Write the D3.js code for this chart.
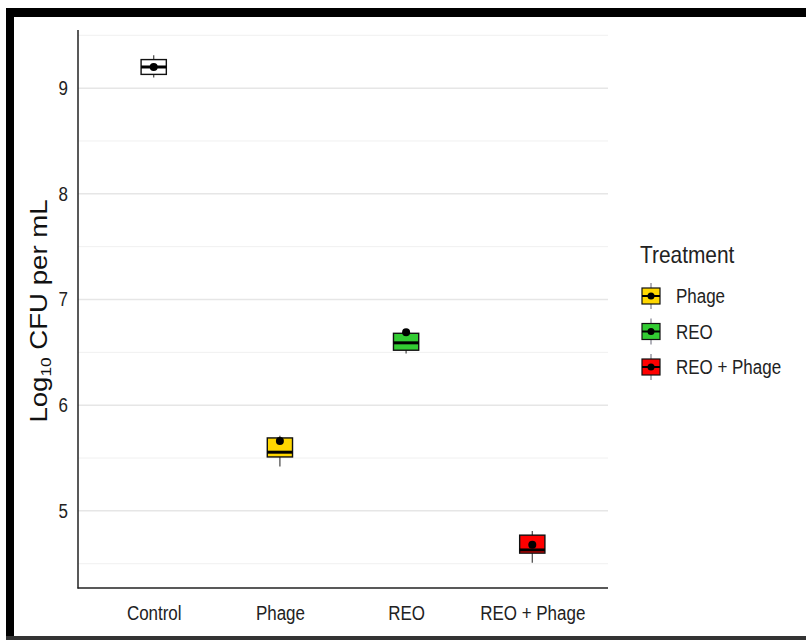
<!DOCTYPE html>
<html>
<head>
<meta charset="utf-8">
<script src="https://cdn.jsdelivr.net/npm/d3@7"></script>
<style>
  html, body { margin: 0; padding: 0; background: #fff; }
  svg { display: block; font-family: "Liberation Sans", Arial, sans-serif; }
</style>
</head>
<body>
<svg id="chart" width="806" height="640"></svg>
<script>
// Treatment groups and their five-number summaries (log10 CFU per mL)
const categories = ["Control", "Phage", "REO", "REO + Phage"];
const whiskerLow = [9.10, 5.42, 6.49, 4.51];
const q1Values   = [9.13, 5.51, 6.52, 4.60];
const medians    = [9.20, 5.555, 6.59, 4.63];
const q3Values   = [9.27, 5.69, 6.68, 4.77];
const whiskerHigh = [9.31, 5.71, 6.71, 4.81];
const means      = [9.20, 5.66, 6.69, 4.68];
const fills      = ["#ffffff", "#ffd700", "#33cc33", "#ff0000"];

// Legend entries (Control is not listed)
const legendTitle = "Treatment";
const legendItems = ["Phage", "REO", "REO + Phage"];
const legendFills = ["#ffd700", "#33cc33", "#ff0000"];

const majorTicks = [5, 6, 7, 8, 9];
const minorTicks = [4.5, 5.5, 6.5, 7.5, 8.5, 9.5];

// Narrow, tall lettering
const SQUEEZE = "scale(0.87,1)";
const FONT = 19.5;

const svg = d3.select("#chart");

// Frame around the figure
svg.append("rect").attr("x", 6).attr("y", 8).attr("width", 800).attr("height", 9).attr("fill", "#000");
svg.append("rect").attr("x", 6).attr("y", 8).attr("width", 8).attr("height", 632).attr("fill", "#000");
svg.append("rect").attr("x", 6).attr("y", 636).attr("width", 800).attr("height", 4).attr("fill", "#333");

const plot = { left: 78, right: 608, top: 30, bottom: 588 };

// Y domain: data range with 5% expansion on each side
const dMin = d3.min(whiskerLow), dMax = d3.max(whiskerHigh);
const pad = (dMax - dMin) * 0.05;
const y = d3.scaleLinear().domain([dMin - pad, dMax + pad]).range([plot.bottom, plot.top]);

// Discrete x positions with 0.6-unit expansion each side
const x = d3.scalePoint().domain(categories).range([plot.left, plot.right]).padding(0.6);
const step = x.step();
const boxW = step * 0.2;

const g = svg.append("g");

// Grid lines
g.selectAll(".minor").data(minorTicks).join("line")
  .attr("x1", plot.left).attr("x2", plot.right)
  .attr("y1", d => y(d)).attr("y2", d => y(d))
  .attr("stroke", "#f0f0f0").attr("stroke-width", 1);
g.selectAll(".major").data(majorTicks).join("line")
  .attr("x1", plot.left).attr("x2", plot.right)
  .attr("y1", d => y(d)).attr("y2", d => y(d))
  .attr("stroke", "#e6e6e6").attr("stroke-width", 1.5);

// Axes
const yAxis = d3.axisLeft(y).tickValues(majorTicks).tickSize(0).tickPadding(11.5).tickFormat(d3.format("d"));
const yG = g.append("g").attr("transform", `translate(${plot.left},0)`).call(yAxis);
yG.select(".domain").remove();
yG.selectAll("text").attr("font-size", FONT).attr("fill", "#222").attr("transform", SQUEEZE);

const xAxis = d3.axisBottom(x).tickSize(0).tickPadding(18);
const xG = g.append("g").attr("transform", `translate(0,${plot.bottom})`).call(xAxis);
xG.select(".domain").remove();
xG.selectAll("text").attr("font-size", FONT).attr("fill", "#222").attr("transform", SQUEEZE);

g.append("line").attr("x1", plot.left).attr("x2", plot.left)
  .attr("y1", plot.top).attr("y2", plot.bottom + 0.5)
  .attr("stroke", "#222").attr("stroke-width", 1.5);
g.append("line").attr("x1", plot.left - 0.5).attr("x2", plot.right)
  .attr("y1", plot.bottom).attr("y2", plot.bottom)
  .attr("stroke", "#222").attr("stroke-width", 1.5);

// Y axis title with subscript
const yTitle = svg.append("text")
  .attr("transform", `translate(47,${(plot.top + plot.bottom) / 2 + 2}) rotate(-90) scale(1.15,1)`)
  .attr("text-anchor", "middle").attr("font-size", 24).attr("fill", "#111");
yTitle.append("tspan").text("Log");
yTitle.append("tspan").attr("font-size", 15).attr("dy", 4).text("10");
yTitle.append("tspan").attr("dy", -4).text(" CFU per mL");

// Boxplots
const data = categories.map((c, i) => ({
  c, lo: whiskerLow[i], q1: q1Values[i], med: medians[i], q3: q3Values[i], hi: whiskerHigh[i], mean: means[i], fill: fills[i]
}));

const boxes = g.selectAll(".box").data(data).join("g");
boxes.append("line")
  .attr("x1", d => x(d.c)).attr("x2", d => x(d.c))
  .attr("y1", d => y(d.hi)).attr("y2", d => y(d.lo))
  .attr("stroke", "#444").attr("stroke-width", 1.2);
boxes.append("rect")
  .attr("x", d => x(d.c) - boxW / 2).attr("width", boxW)
  .attr("y", d => y(d.q3)).attr("height", d => y(d.q1) - y(d.q3))
  .attr("fill", d => d.fill).attr("stroke", "#111").attr("stroke-width", 1.4);
boxes.append("line")
  .attr("x1", d => x(d.c) - boxW / 2).attr("x2", d => x(d.c) + boxW / 2)
  .attr("y1", d => y(d.med)).attr("y2", d => y(d.med))
  .attr("stroke", "#000").attr("stroke-width", 3);
boxes.append("circle")
  .attr("cx", d => x(d.c)).attr("cy", d => y(d.mean)).attr("r", 4)
  .attr("fill", "#000");

// Legend
const leg = svg.append("g").attr("transform", "translate(640,0)");
leg.append("text").attr("x", 0).attr("y", 263).attr("font-size", 24).attr("fill", "#222")
  .attr("transform", SQUEEZE).text(legendTitle);
const keyY = d3.scalePoint().domain(legendItems).range([296, 367]);
const items = leg.selectAll(".item").data(legendItems.map((d, i) => ({ d, fill: legendFills[i] }))).join("g")
  .attr("transform", d => `translate(0,${keyY(d.d)})`);
items.append("line").attr("x1", 11).attr("x2", 11).attr("y1", -13).attr("y2", 13)
  .attr("stroke", "#667").attr("stroke-width", 1);
items.append("rect").attr("x", 2).attr("y", -8).attr("width", 18).attr("height", 16)
  .attr("fill", d => d.fill).attr("stroke", "#111").attr("stroke-width", 1.2);
items.append("line").attr("x1", 2).attr("x2", 20).attr("y1", 0).attr("y2", 0)
  .attr("stroke", "#000").attr("stroke-width", 2);
items.append("circle").attr("cx", 11).attr("cy", 0).attr("r", 3.5).attr("fill", "#000");
items.append("text").attr("x", 36 / 0.87).attr("y", 7).attr("font-size", FONT).attr("fill", "#222")
  .attr("transform", SQUEEZE).text(d => d.d);
</script>
</body>
</html>
